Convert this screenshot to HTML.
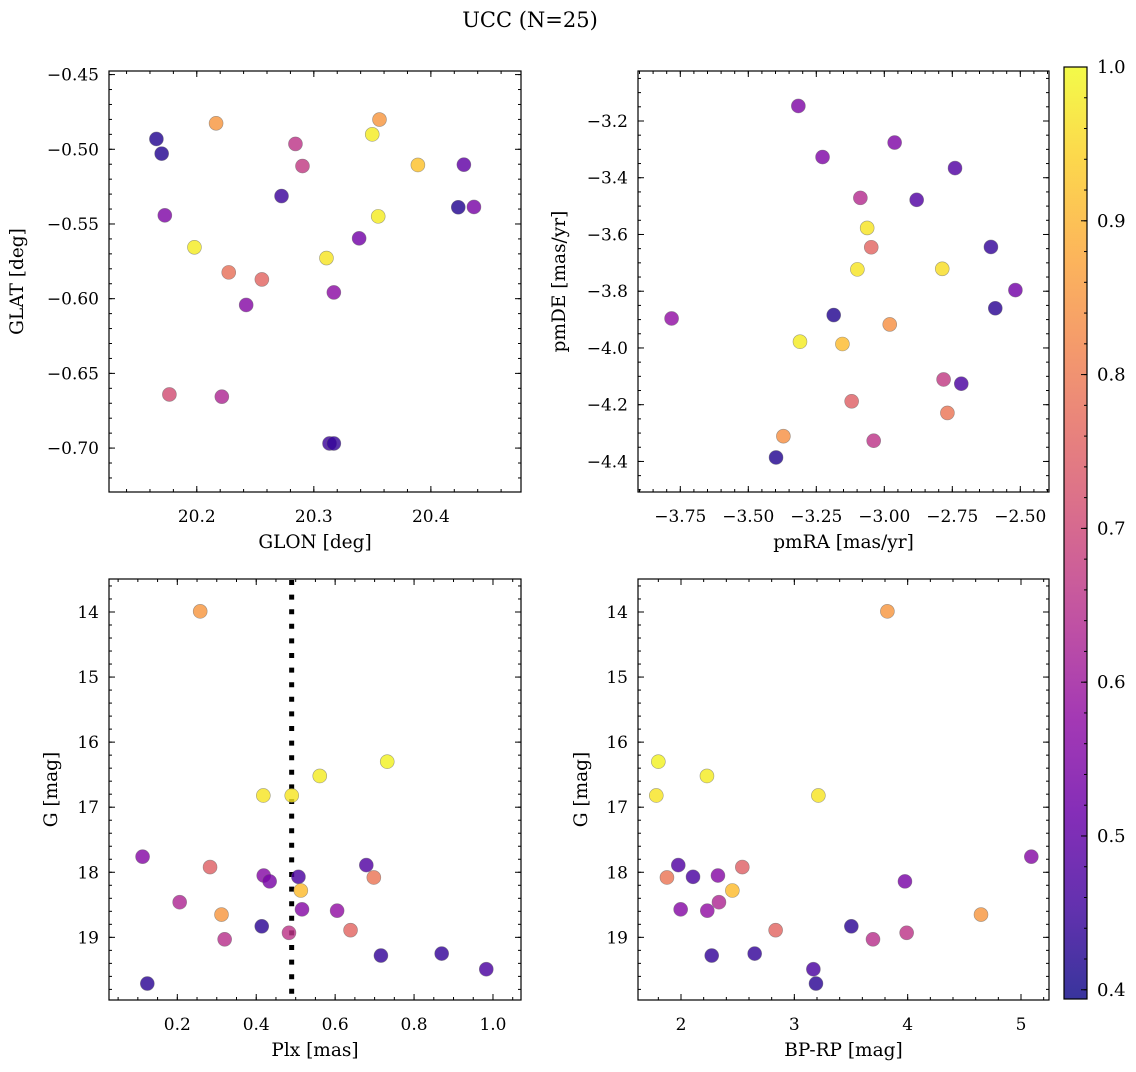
<!DOCTYPE html>
<html><head><meta charset="utf-8"><style>
html,body{margin:0;padding:0;background:#fff;}
svg text{font-family:"DejaVu Serif","Liberation Serif",serif;fill:#000;}
</style></head><body>
<svg id="fig" width="1136" height="1067" viewBox="0 0 1136 1067" xmlns="http://www.w3.org/2000/svg">
<defs>
<linearGradient id="plasma" x1="0" y1="1" x2="0" y2="0"></linearGradient>
</defs>
<text x="530" y="27" font-size="21" text-anchor="middle">UCC (N=25)</text>
</svg>
<script>
// Panel 1: GLON / GLAT
const glon = [20.1655,20.170,20.2165,20.1727,20.198,20.2273,20.2556,20.2422,20.1766,20.2214,20.2724,20.2843,20.2903,20.3108,20.3171,20.3134,20.3171,20.3387,20.3499,20.3561,20.355,20.3889,20.4234,20.4282,20.4368];
const glat = [-0.4931,-0.5029,-0.4826,-0.5442,-0.5656,-0.5824,-0.5871,-0.6042,-0.6641,-0.6656,-0.5313,-0.4964,-0.5112,-0.5728,-0.5958,-0.6969,-0.6969,-0.5596,-0.49,-0.4801,-0.5449,-0.5105,-0.5388,-0.5103,-0.5386];
const prob1 = [0.42,0.42,0.85,0.55,0.98,0.78,0.76,0.56,0.71,0.63,0.45,0.66,0.67,0.97,0.57,0.45,0.44,0.53,0.98,0.85,0.98,0.92,0.42,0.50,0.54];
// Panel 2: pmRA / pmDE
const pmra = [-3.316,-2.962,-3.227,-2.740,-3.088,-2.881,-3.063,-3.048,-3.099,-2.787,-2.608,-2.518,-2.592,-3.782,-3.186,-2.980,-3.310,-3.154,-2.782,-2.717,-3.120,-2.768,-3.371,-3.039,-3.398];
const pmde = [-3.147,-3.276,-3.327,-3.366,-3.471,-3.478,-3.577,-3.645,-3.723,-3.721,-3.644,-3.796,-3.860,-3.896,-3.884,-3.917,-3.978,-3.986,-4.111,-4.126,-4.188,-4.229,-4.311,-4.327,-4.386];
const prob2 = [0.55,0.55,0.55,0.48,0.64,0.48,0.97,0.76,0.97,0.96,0.44,0.53,0.43,0.58,0.42,0.84,0.98,0.91,0.67,0.47,0.75,0.79,0.84,0.66,0.42];
// Panels 3 & 4: Plx, BP-RP, G
const plx = [0.258,0.732,0.561,0.418,0.490,0.112,0.283,0.679,0.698,0.419,0.434,0.507,0.513,0.206,0.312,0.516,0.605,0.414,0.483,0.639,0.320,0.716,0.870,0.983,0.124];
const bprp = [3.821,1.800,2.229,1.782,3.212,5.091,2.541,1.976,1.876,2.326,3.976,2.106,2.453,2.335,4.647,1.997,2.232,3.503,3.991,2.835,3.694,2.271,2.650,3.168,3.191];
const gmag = [13.99,16.30,16.52,16.82,16.82,17.76,17.92,17.89,18.08,18.05,18.14,18.07,18.28,18.46,18.65,18.57,18.59,18.83,18.93,18.89,19.03,19.28,19.25,19.49,19.71];
const prob3 = [0.85,0.99,0.98,0.97,0.97,0.56,0.75,0.48,0.79,0.56,0.54,0.47,0.91,0.63,0.85,0.56,0.58,0.43,0.66,0.76,0.65,0.44,0.44,0.47,0.43];
const plxLine = [0.4898];
// tick labels
const ticks1x = [20.2,20.3,20.4];
const ticks1y = [-0.45,-0.50,-0.55,-0.60,-0.65,-0.70];
const ticks2x = [-3.75,-3.50,-3.25,-3.00,-2.75,-2.50];
const ticks2y = [-3.2,-3.4,-3.6,-3.8,-4.0,-4.2,-4.4];
const ticks3x = [0.2,0.4,0.6,0.8,1.0];
const ticksG = [14,15,16,17,18,19];
const ticks4x = [2,3,4,5];
const cbTicks = [0.4,0.5,0.6,0.7,0.8,0.9,1.0];
const cbMin = 0.394, cbMax = 1.0;

const NS = "http://www.w3.org/2000/svg";
const svg = document.getElementById('fig');
function mk(tag, attrs, parent){
  const e = document.createElementNS(NS, tag);
  for (const k in attrs) e.setAttribute(k, attrs[k]);
  (parent||svg).appendChild(e); return e;
}
const stops = [[13,8,135],[65,4,157],[106,0,168],[143,13,164],[177,42,144],[204,71,120],[225,100,98],[242,132,75],[252,166,54],[252,206,37],[240,249,33]];
function plasma(t){
  t = Math.max(0, Math.min(1, t));
  const p = t*10, i = Math.min(9, Math.floor(p)), f = p - i;
  const a = stops[i], b = stops[i+1];
  return 'rgb(' + a.map((v,k)=>Math.round(v+(b[k]-v)*f)).join(',') + ')';
}
function cmap(v){ return plasma((v-cbMin)/(cbMax-cbMin)); }

const grad = document.getElementById('plasma');
for (let i=0;i<=20;i++){ mk('stop',{offset:(i/20),'stop-color':plasma(i/20)},grad); }

function fmt(v, d){ const s = v.toFixed(d); return s.replace('-', '\u2212'); }

function panel(cfg){
  const g = mk('g',{});
  
  
  const L=cfg.x0, R=cfg.x1, T=cfg.y0, B=cfg.y1;
  const sx = v => L + (v-cfg.xmin)/(cfg.xmax-cfg.xmin)*(R-L);
  const sy = cfg.invert ? (v => T + (v-cfg.ymin)/(cfg.ymax-cfg.ymin)*(B-T))
                        : (v => B - (v-cfg.ymin)/(cfg.ymax-cfg.ymin)*(B-T));
  const tk = mk('g',{stroke:'#000','stroke-width':1},g);
  
  
  for (let v=Math.ceil(cfg.xmin/cfg.xminor-1e-9)*cfg.xminor; v<=cfg.xmax; v+=cfg.xminor){
    const x = sx(v);
    mk('line',{x1:x,x2:x,y1:B,y2:B-3},tk); mk('line',{x1:x,x2:x,y1:T,y2:T+3},tk);
  }
  const ylo=Math.min(cfg.ymin,cfg.ymax), yhi=Math.max(cfg.ymin,cfg.ymax);
  for (let v=Math.ceil(ylo/cfg.yminor-1e-9)*cfg.yminor; v<=yhi; v+=cfg.yminor){
    const y = sy(v);
    mk('line',{x1:L,x2:L+3,y1:y,y2:y},tk); mk('line',{x1:R,x2:R-3,y1:y,y2:y},tk);
  }
  cfg.xt.forEach(v=>{
    const x=sx(v);
    mk('line',{x1:x,x2:x,y1:B,y2:B-6},tk); mk('line',{x1:x,x2:x,y1:T,y2:T+6},tk);
    const t=mk('text',{x:x,y:B+30,'font-size':17,'text-anchor':'middle'},g);
    
    
    t.textContent=fmt(v,cfg.xd);
  });
  cfg.yt.forEach(v=>{
    const y=sy(v);
    mk('line',{x1:L,x2:L+6,y1:y,y2:y},tk); mk('line',{x1:R,x2:R-6,y1:y,y2:y},tk);
    const t=mk('text',{x:L-10,y:y+6,'font-size':17,'text-anchor':'end'},g);
    
    
    t.textContent=fmt(v,cfg.yd);
  });
  if (cfg.vline){
    cfg.vline.forEach(v=>{
      const l=mk('line',{x1:sx(v),x2:sx(v),y1:T+1,y2:B,stroke:'#000','stroke-width':5,'stroke-dasharray':'5 9.6'},g);
      
      
    });
  }
  cfg.xs.forEach((xv,i)=>{
    const c=mk('circle',{cx:sx(xv),cy:sy(cfg.ys[i]),r:7,fill:cmap(cfg.cs[i]),'fill-opacity':0.82,stroke:'#666','stroke-opacity':0.6,'stroke-width':0.6},g);
    
    
  });
  const fr=mk('rect',{x:L,y:T,width:R-L,height:B-T,fill:'none',stroke:'#000','stroke-width':1.2},g);
  
  
  const xl=mk('text',{x:(L+R)/2,y:B+56,'font-size':18.5,'text-anchor':'middle'},g);
  
  
  xl.textContent=cfg.xlabel;
  const yx=cfg.ylabx, yy=(T+B)/2;
  const yl=mk('text',{x:yx,y:yy,'font-size':18.5,'text-anchor':'middle',transform:'rotate(-90 '+yx+' '+yy+')'},g);
  
  
  yl.textContent=cfg.ylabel;
}

panel({name:'glon-glat-panel',x0:109,x1:521,y0:71,y1:492,xmin:20.125,xmax:20.477,ymin:-0.7294,ymax:-0.4476,
  xminor:0.02,yminor:0.01,xt:ticks1x,yt:ticks1y,xd:1,yd:2,xs:glon,ys:glat,cs:prob1,xlabel:'GLON [deg]',ylabel:'GLAT [deg]',ylabx:23});
panel({name:'pm-panel',x0:638,x1:1049,y0:71,y1:492,xmin:-3.9055,xmax:-2.3945,ymin:-4.5077,ymax:-3.0238,
  xminor:0.05,yminor:0.05,xt:ticks2x,yt:ticks2y,xd:2,yd:1,xs:pmra,ys:pmde,cs:prob2,xlabel:'pmRA [mas/yr]',ylabel:'pmDE [mas/yr]',ylabx:565});
panel({name:'plx-g-panel',x0:109,x1:521,y0:579,y1:1000,xmin:0.0269,xmax:1.071,ymin:13.493,ymax:19.963,invert:true,
  xminor:0.05,yminor:0.2,xt:ticks3x,yt:ticksG,xd:1,yd:0,xs:plx,ys:gmag,cs:prob3,vline:plxLine,xlabel:'Plx [mas]',ylabel:'G [mag]',ylabx:57});
panel({name:'cmd-panel',x0:638,x1:1049,y0:579,y1:1000,xmin:1.6206,xmax:5.247,ymin:13.493,ymax:19.963,invert:true,
  xminor:0.2,yminor:0.2,xt:ticks4x,yt:ticksG,xd:0,yd:0,xs:bprp,ys:gmag,cs:prob3,xlabel:'BP-RP [mag]',ylabel:'G [mag]',ylabx:587});

const cb = mk('g',{});


const CT=67, CB=999, CL=1064, CR=1087;
mk('rect',{x:CL,y:CT,width:CR-CL,height:CB-CT,fill:'url(#plasma)','fill-opacity':0.82},cb);
mk('rect',{x:CL,y:CT,width:CR-CL,height:CB-CT,fill:'none',stroke:'#000','stroke-width':1.2},cb);
const cy = v => CB - (v-cbMin)/(cbMax-cbMin)*(CB-CT);
for (let v=0.4; v<=1.0001; v+=0.02){
  mk('line',{x1:CR,x2:CR-3,y1:cy(v),y2:cy(v),stroke:'#000'},cb);
}
cbTicks.forEach(v=>{
  mk('line',{x1:CR,x2:CR-6,y1:cy(v),y2:cy(v),stroke:'#000'},cb);
  const t=mk('text',{x:1097,y:cy(v)+6,'font-size':18},cb);
  
  
  t.textContent=v.toFixed(1);
});
</script>
</body></html>
